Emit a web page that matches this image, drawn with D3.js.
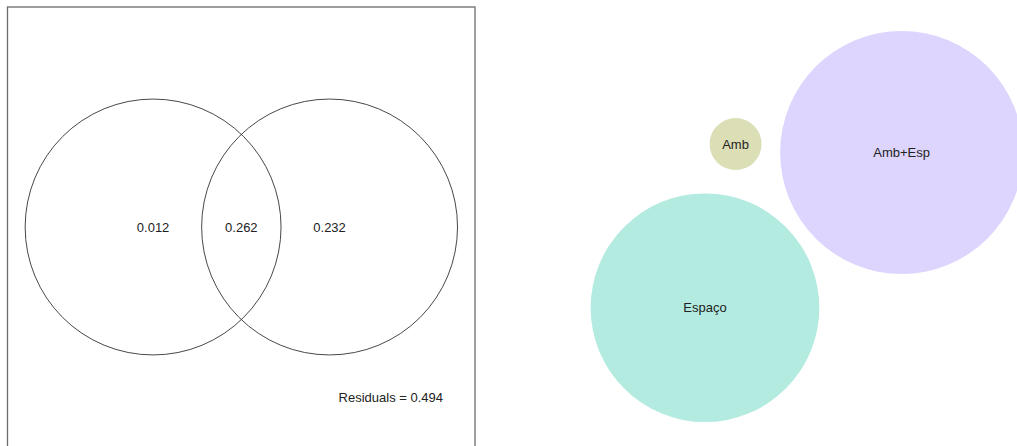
<!DOCTYPE html>
<html><head><meta charset="utf-8">
<script src="https://cdn.jsdelivr.net/npm/d3@7"></script>
<style>body{margin:0;background:#fff}svg{display:block}text{font-family:"Liberation Sans",Arial,sans-serif}</style>
</head><body>
<svg id="c" width="1017" height="446"></svg>
<script>
// Venn (variation partitioning) data
const vennFractions = ["0.012", "0.262", "0.232"];
const vennLabelX = [0, 0.5, 1];          // label positions in plot units
const vennCentersX = [0, 1];             // circle centres in plot units
const vennRadius = 0.725;
const residualsLabel = "Residuals = 0.494";

// Bubble data
const bubbleNames = ["Amb", "Espaço", "Amb+Esp"];
const bubbleValues = [0.012, 0.232, 0.262];
const bubbleColors = ["#dcdeb5", "#b3ebe1", "#ddd5fe"];
const bubbleX = [0.356, 0.286, 0.736];   // layout units
const bubbleY = [0.323, 0.690, 0.342];

const svg = d3.select("#c");

// ---- Left panel: Venn ----
const x = d3.scaleLinear().domain([-0.825, 1.824]).range([7.5, 475]);
const y = d3.scaleLinear().domain([-1.246, 1.246]).range([447, 7]);
const k = x(1) - x(0);

svg.append("rect").attr("x", x(-0.825)).attr("y", y(1.246))
  .attr("width", x(1.824) - x(-0.825)).attr("height", y(-1.246) - y(1.246))
  .attr("fill", "none").attr("stroke", "#6a6a6a").attr("stroke-width", 1.3);

svg.selectAll("circle.venn").data(vennCentersX).join("circle")
  .attr("class", "venn").attr("cx", d => x(d)).attr("cy", y(0))
  .attr("r", vennRadius * k).attr("fill", "none")
  .attr("stroke", "#333").attr("stroke-width", 0.9);

svg.selectAll("text.vl").data(vennFractions).join("text")
  .attr("class", "vl").attr("x", (d, i) => x(vennLabelX[i])).attr("y", y(0))
  .attr("dy", "0.35em").attr("text-anchor", "middle")
  .attr("font-size", 13).attr("fill", "#222").text(d => d);

svg.append("text").attr("x", x(1.643)).attr("y", y(-0.963)).attr("dy", "0.35em")
  .attr("text-anchor", "end").attr("font-size", 13).attr("fill", "#222")
  .text(residualsLabel);

// ---- Right panel: bubbles ----
const bx = d3.scaleLinear().domain([0, 1]).range([580, 1017]);
const by = d3.scaleLinear().domain([0, 1]).range([0, 446]);
const r = d3.scaleSqrt().domain([0, d3.max(bubbleValues)]).range([0, 121.5]);

const g = svg.append("g");
const nodes = bubbleNames.map((n, i) => ({n, v: bubbleValues[i], c: bubbleColors[i], x: bubbleX[i], y: bubbleY[i]}));
g.selectAll("circle").data(nodes).join("circle")
  .attr("cx", d => bx(d.x)).attr("cy", d => by(d.y)).attr("r", d => r(d.v))
  .attr("fill", d => d.c);
g.selectAll("text").data(nodes).join("text")
  .attr("x", d => bx(d.x)).attr("y", d => by(d.y)).attr("dy", "0.35em")
  .attr("text-anchor", "middle").attr("font-size", 13).attr("fill", "#222")
  .text(d => d.n);
</script>
</body></html>
